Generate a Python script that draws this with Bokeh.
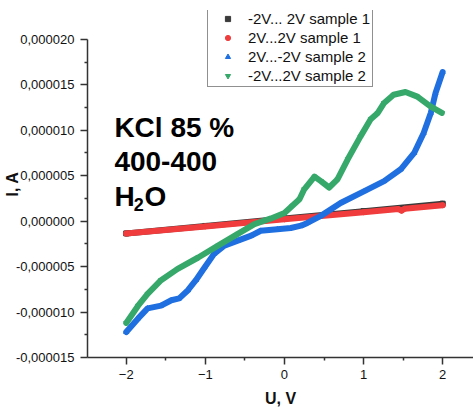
from bokeh.plotting import figure
from bokeh.models import (Range1d, FixedTicker, CustomJSTickFormatter, Legend, LegendItem, Label)
from bokeh.embed import file_html
from bokeh.resources import INLINE

# ---- data (U in V, I in A) ----
u_s1_fwd = [-2.0, -1.0, 0.0, 1.0, 2.0]
i_s1_fwd = [-1.35e-6, -0.53e-6, 0.29e-6, 1.10e-6, 1.92e-6]

u_s1_rev = [-2.0, -1.0, 0.0, 1.0, 1.44, 1.48, 1.52, 2.0]
i_s1_rev = [-1.35e-6, -0.58e-6, 0.20e-6, 0.98e-6, 1.33e-6, 1.15e-6, 1.36e-6, 1.75e-6]

u_s2_rev = [-2.0, -1.85, -1.73, -1.56, -1.43, -1.33, -1.22, -1.12, -1.01, -0.89, -0.76,
            -0.59, -0.42, -0.30, -0.09, 0.08, 0.21, 0.29, 0.46, 0.71, 1.01, 1.26, 1.47,
            1.64, 1.76, 1.85, 1.91, 2.0]
i_s2_rev = [-12.2e-6, -10.7e-6, -9.6e-6, -9.3e-6, -8.7e-6, -8.5e-6, -7.6e-6, -6.5e-6,
            -5.1e-6, -3.6e-6, -2.7e-6, -2.15e-6, -1.6e-6, -1.06e-6, -0.9e-6, -0.75e-6,
            -0.5e-6, -0.2e-6, 0.58e-6, 2.0e-6, 3.3e-6, 4.4e-6, 5.7e-6, 7.5e-6, 9.7e-6,
            11.9e-6, 14.1e-6, 16.4e-6]

u_s2_fwd = [-2.0, -1.85, -1.73, -1.56, -1.35, -1.09, -0.84, -0.59, -0.38, -0.17, 0.0,
            0.10, 0.19, 0.25, 0.38, 0.46, 0.565, 0.67, 0.80, 0.96, 1.09, 1.18, 1.26,
            1.38, 1.53, 1.68, 1.85, 1.99]
i_s2_fwd = [-11.2e-6, -9.3e-6, -8.0e-6, -6.5e-6, -5.25e-6, -4.0e-6, -2.7e-6, -1.4e-6,
            -0.33e-6, 0.3e-6, 0.9e-6, 1.7e-6, 2.4e-6, 3.5e-6, 4.9e-6, 4.4e-6, 3.7e-6,
            4.6e-6, 6.8e-6, 9.3e-6, 11.2e-6, 11.9e-6, 13.0e-6, 13.9e-6, 14.2e-6, 13.7e-6,
            12.6e-6, 11.9e-6]

series_names = ["-2V... 2V sample 1", "2V...2V sample 1", "2V...-2V sample 2", "-2V...2V sample 2"]
x_ticks = [-2, -1, 0, 1, 2]
x_minor = [-1.5, -0.5, 0.5, 1.5]
y_ticks = [-15e-6, -10e-6, -5e-6, 0.0, 5e-6, 10e-6, 15e-6, 20e-6]
y_minor = [-12.5e-6, -7.5e-6, -2.5e-6, 2.5e-6, 7.5e-6, 12.5e-6, 17.5e-6]

p = figure(width=473, height=409, output_backend="svg", toolbar_location=None,
           x_range=Range1d(-2.49, 2.39), y_range=Range1d(-15e-6, 23.17e-6),
           min_border_left=86, min_border_right=0, min_border_top=10, min_border_bottom=50)
p.outline_line_color = None
p.xgrid.visible = False
p.ygrid.visible = False
p.background_fill_color = "white"

FONT = "Liberation Sans"
for ax in (p.xaxis[0], p.yaxis[0]):
    ax.axis_line_color = "#333333"
    ax.axis_line_width = 1.5
    ax.major_tick_line_color = "#333333"
    ax.minor_tick_line_color = "#333333"
    ax.major_tick_line_width = 1.5
    ax.minor_tick_line_width = 1.5
    ax.major_tick_out = 7
    ax.major_tick_in = 0
    ax.minor_tick_out = 3
    ax.minor_tick_in = 0
    ax.major_label_text_font = FONT
    ax.major_label_text_font_size = "13px"
    ax.major_label_text_color = "#111111"
    ax.axis_label_text_font = FONT
    ax.axis_label_text_font_style = "bold"
    ax.axis_label_text_font_size = "16px"
    ax.axis_label_text_color = "#111111"

p.yaxis.major_label_standoff = 6
p.yaxis.bounds = (-15e-6, 20e-6)
p.xaxis.ticker = FixedTicker(ticks=x_ticks, minor_ticks=x_minor)
p.yaxis.ticker = FixedTicker(ticks=y_ticks, minor_ticks=y_minor)
p.yaxis.formatter = CustomJSTickFormatter(code="return tick.toFixed(6).replace('.', ',');")
p.xaxis.axis_label = "U, V"
p.xaxis.axis_label_standoff = 8
p.yaxis.axis_label = "I, A"
p.yaxis.axis_label_standoff = -8

series = [
    (u_s1_fwd, i_s1_fwd, "#3a3a3a", "square"),
    (u_s1_rev, i_s1_rev, "#f03c3c", "circle"),
    (u_s2_rev, i_s2_rev, "#1f6fe0", "triangle"),
    (u_s2_fwd, i_s2_fwd, "#35a86a", "inverted_triangle"),
]
W = 6
markers = []
for u, i, c, m in series:
    r = p.scatter(u, i, marker=m, size=5, color=c)
    p.line(u, i, line_color=c, line_width=W, line_cap="round", line_join="round")
    markers.append(r)

legend = Legend(items=[LegendItem(label=series_names[k], renderers=[markers[k]]) for k in range(4)],
                location=(120, 270))
legend.label_text_font = FONT
legend.label_text_font_size = "15px"
legend.label_text_color = "#111111"
legend.label_height = 18
legend.glyph_height = 13
legend.glyph_width = 35
legend.label_standoff = 3
legend.spacing = 1
legend.padding = 2
legend.margin = 0
legend.border_line_color = "#222222"
legend.border_line_width = 1
legend.background_fill_alpha = 1
p.add_layout(legend)

# annotation text
TX = -2.15
for txt, yy in [("KCl 85 %", 10.3e-6), ("400-400", 6.57e-6)]:
    p.add_layout(Label(x=TX, y=yy, text=txt, text_font=FONT, text_font_style="bold",
                       text_font_size="28px", text_color="black", text_baseline="alphabetic"))
p.add_layout(Label(x=TX, y=2.7e-6, text="H", text_font=FONT, text_font_style="bold",
                   text_font_size="28px", text_color="black", text_baseline="alphabetic"))
p.add_layout(Label(x=TX + 0.245, y=1.85e-6, text="2", text_font=FONT, text_font_style="bold",
                   text_font_size="18px", text_color="black", text_baseline="alphabetic"))
p.add_layout(Label(x=TX + 0.38, y=2.7e-6, text="O", text_font=FONT, text_font_style="bold",
                   text_font_size="28px", text_color="black", text_baseline="alphabetic"))

open("out.html", "w").write(file_html(p, INLINE))
